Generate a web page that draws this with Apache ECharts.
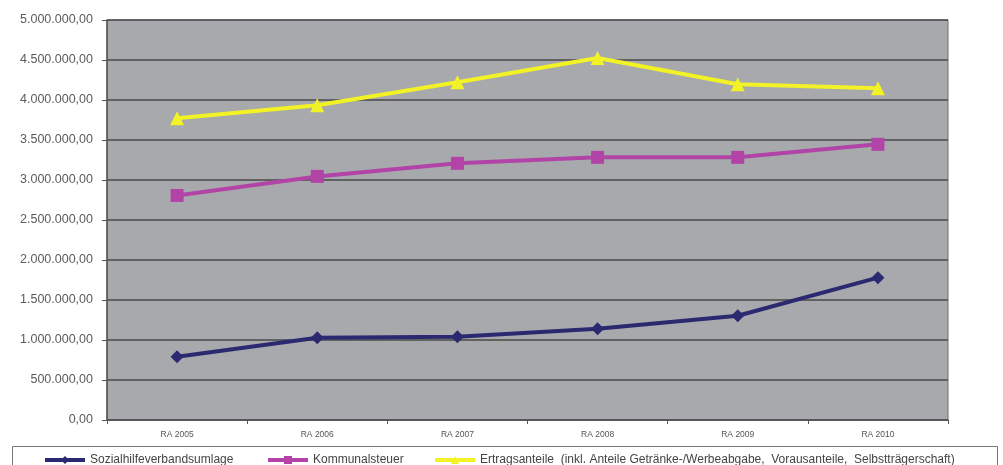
<!DOCTYPE html>
<html>
<head>
<meta charset="utf-8">
<script src="https://cdn.jsdelivr.net/npm/echarts@6/dist/echarts.min.js"></script>
<style>
  html, body { margin: 0; padding: 0; background: #fff; }
  #chart { width: 1003px; height: 465px; }
</style>
</head>
<body>
<div id="chart"></div>
<script>
// Kategorien (Rechnungsabschlüsse)
const years = ["RA 2005", "RA 2006", "RA 2007", "RA 2008", "RA 2009", "RA 2010"];

// Werte (geschätzt)
const sozialhilfe = [790000, 1027000, 1040000, 1140000, 1303000, 1779000];
const kommunal = [2807000, 3045000, 3208000, 3283000, 3283000, 3446000];
const ertrag = [3772000, 3935000, 4223000, 4524000, 4198000, 4148000];

const names = [
  "Sozialhilfeverbandsumlage",
  "Kommunalsteuer",
  "Ertragsanteile  (inkl. Anteile Getränke-/Werbeabgabe,  Vorausanteile,  Selbstträgerschaft)",
];

// 5.000.000,00 -> deutsches Zahlenformat
const fmt = (v) => {
  const s = Math.round(v).toString().replace(/\B(?=(\d{3})+(?!\d))/g, ".");
  return s + ",00";
};

const chart = echarts.init(document.getElementById("chart"), null, { renderer: "canvas" });

const legendBase = {
  top: 449,
  itemWidth: 40,
  itemHeight: 10,
  textStyle: { fontFamily: "Liberation Sans, Arial", fontSize: 12, color: "#444" },
  lineStyle: { width: 4 },
  selectedMode: false,
};

chart.setOption({
  animation: false,
  backgroundColor: "#fff",
  grid: { left: 107, right: 55, top: 20, bottom: 45, show: true, backgroundColor: "#a7a9ac", borderColor: "#6e6e6e", borderWidth: 1 },
  graphic: [
    { type: "rect", shape: { x: 12.5, y: 446.5, width: 985, height: 30 }, style: { fill: "#fff", stroke: "#777", lineWidth: 1 }, z: -1 },
  ],
  legend: [
    Object.assign({}, legendBase, { left: 38, data: [names[0]] }),
    Object.assign({}, legendBase, { left: 261, data: [names[1]] }),
    Object.assign({}, legendBase, { left: 428, data: [names[2]] }),
  ],
  xAxis: {
    type: "category",
    data: years,
    boundaryGap: true,
    axisLine: { lineStyle: { color: "#555", width: 1.5 } },
    axisTick: { show: true, length: 4, lineStyle: { color: "#555" } },
    axisLabel: { fontFamily: "Liberation Sans, Arial", fontSize: 8.5, color: "#555", margin: 10 },
  },
  yAxis: {
    type: "value",
    min: 0,
    max: 5000000,
    interval: 500000,
    axisLine: { show: true, lineStyle: { color: "#555", width: 1.5 } },
    axisTick: { show: true, length: 5, lineStyle: { color: "#555" } },
    axisLabel: { fontFamily: "Liberation Sans, Arial", fontSize: 12.5, color: "#5a5a5a", margin: 14, formatter: fmt },
    splitLine: { lineStyle: { color: "#4a4a4a", width: 1.5 } },
  },
  series: [
    {
      name: names[0], type: "line", data: sozialhilfe,
      symbol: "diamond", symbolSize: 13,
      lineStyle: { color: "#2b2a70", width: 4 },
      itemStyle: { color: "#2b2a70" },
    },
    {
      name: names[1], type: "line", data: kommunal,
      symbol: "rect", symbolSize: 13,
      lineStyle: { color: "#b244a8", width: 4 },
      itemStyle: { color: "#b244a8" },
    },
    {
      name: names[2], type: "line", data: ertrag,
      symbol: "triangle", symbolSize: 14,
      lineStyle: { color: "#f2f226", width: 4 },
      itemStyle: { color: "#f2f226" },
    },
  ],
});
</script>
</body>
</html>
